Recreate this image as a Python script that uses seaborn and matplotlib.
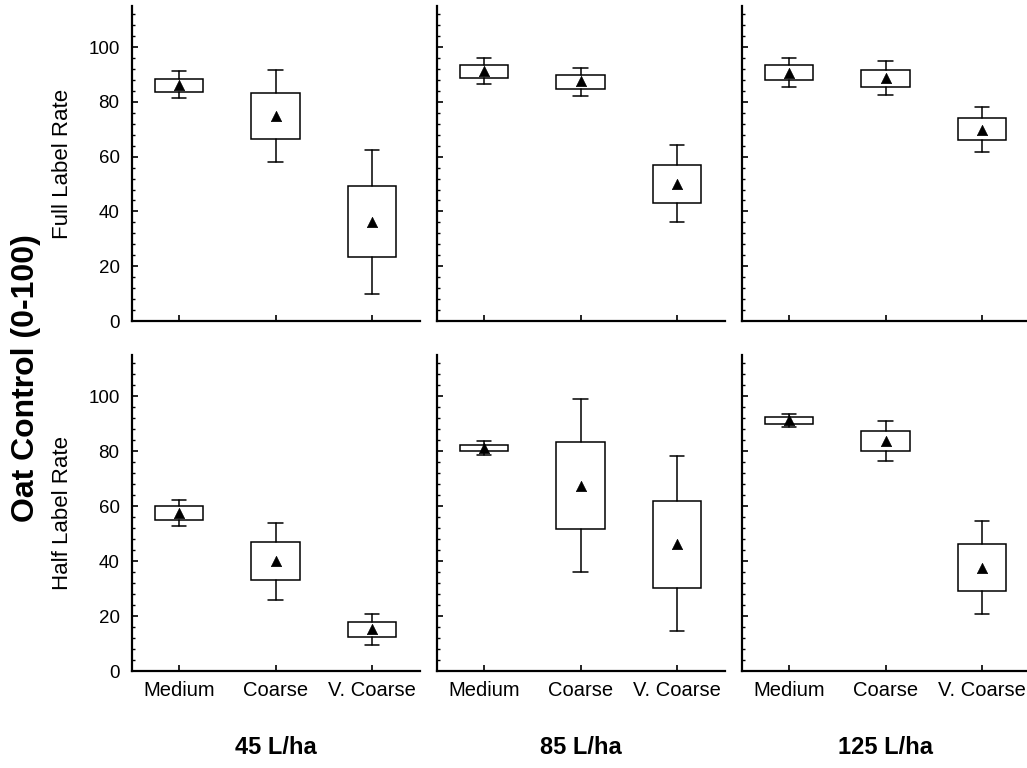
import matplotlib
matplotlib.use("Agg")
import matplotlib.pyplot as plt
from matplotlib.ticker import MultipleLocator
import seaborn as sns
import pandas as pd

# ---- data ----
categories = ["Medium", "Coarse", "V. Coarse"]
volumes = ["45 L/ha", "85 L/ha", "125 L/ha"]
rates = ["Full Label Rate", "Half Label Rate"]

# each inner list: Medium, Coarse, V. Coarse ; outer list: 45, 85, 125 L/ha
full_mean = [[86.0, 74.8, 36.0], [91.2, 87.6, 49.9], [90.6, 88.7, 69.9]]
full_box_lo = [[83.7, 66.5, 23.2], [88.7, 84.8, 42.9], [88.0, 85.5, 66.0]]
full_box_hi = [[88.5, 83.3, 49.2], [93.5, 89.9, 57.1], [93.4, 91.8, 74.0]]
full_whis_lo = [[81.3, 58.1, 9.9], [86.4, 82.3, 36.0], [85.4, 82.4, 61.8]]
full_whis_hi = [[91.1, 91.8, 62.3], [96.0, 92.4, 64.2], [96.1, 94.9, 78.0]]

half_mean = [[57.5, 39.9, 15.2], [81.1, 67.3, 46.1], [91.2, 83.6, 37.5]]
half_box_lo = [[55.0, 33.0, 12.3], [79.9, 51.6, 30.3], [89.8, 79.9, 29.1]]
half_box_hi = [[60.0, 47.0, 17.9], [82.4, 83.3, 62.0], [92.5, 87.5, 46.1]]
half_whis_lo = [[52.6, 25.9, 9.4], [78.7, 35.9, 14.4], [88.7, 76.3, 20.6]]
half_whis_hi = [[62.4, 54.0, 20.8], [83.8, 99.0, 78.1], [93.7, 91.1, 54.5]]

row_data = [
    (full_mean, full_box_lo, full_box_hi, full_whis_lo, full_whis_hi),
    (half_mean, half_box_lo, half_box_hi, half_whis_lo, half_whis_hi),
]

# ---- style ----
sns.set_style("ticks", {"axes.edgecolor": "black", "text.color": "black",
                        "xtick.color": "black", "ytick.color": "black"})
plt.rcParams["font.family"] = ["Liberation Sans", "DejaVu Sans"]

fig = plt.figure(figsize=(10.27, 7.68), dpi=100)
W, H = 1027, 768
col_x = [132, 437, 742]
ax_w = 288
row_y = [(6, 321), (355, 671)]

for r in range(2):
    means, blo, bhi, wlo, whi = row_data[r]
    top_px, bot_px = row_y[r]
    for c in range(3):
        ax = fig.add_axes([col_x[c] / W, 1 - bot_px / H, ax_w / W, (bot_px - top_px) / H])
        stats = []
        for k, cat in enumerate(categories):
            stats.append(dict(label=cat, med=means[c][k], q1=blo[c][k], q3=bhi[c][k],
                              whislo=wlo[c][k], whishi=whi[c][k], fliers=[]))
        pos = list(range(len(categories)))
        ax.bxp(stats, positions=pos, widths=0.5, capwidths=0.15, showfliers=False,
               patch_artist=True,
               boxprops=dict(facecolor="white", edgecolor="black", linewidth=1.1),
               whiskerprops=dict(color="black", linewidth=1.1),
               capprops=dict(color="black", linewidth=1.1),
               medianprops=dict(linewidth=0))
        df = pd.DataFrame({"pos": pos, "mean": means[c]})
        sns.scatterplot(data=df, x="pos", y="mean", marker="^", color="black",
                        s=55, edgecolor="black", linewidth=0.5, ax=ax, legend=False, zorder=5)
        ax.set_xlim(-0.49, 2.5)
        ax.set_ylim(0, 115)
        ax.set_xticks(pos)
        ax.yaxis.set_major_locator(MultipleLocator(20))
        ax.yaxis.set_minor_locator(MultipleLocator(4))
        ax.set_xlabel("")
        ax.set_ylabel("")
        for s in ["top", "right"]:
            ax.spines[s].set_visible(False)
        for s in ["left", "bottom"]:
            ax.spines[s].set_linewidth(1.6)
            ax.spines[s].set_color("black")
        ax.tick_params(axis="both", direction="in", length=4, width=1.2, labelsize=13.5,
                       colors="black")
        ax.tick_params(axis="y", pad=9)
        ax.tick_params(axis="y", which="minor", direction="in", length=2.5, width=1.0)
        ax.tick_params(axis="x", labelsize=14.5, pad=7)
        if r == 0:
            ax.set_xticklabels([])
        else:
            ax.set_xticklabels(categories)
        if c != 0:
            ax.set_yticklabels([])
        if r == 1:
            fig.text((col_x[c] + ax_w / 2) / W, 1 - 748 / H, volumes[c],
                     ha="center", va="center", fontsize=17, fontweight="bold")
    fig.text(62 / W, 1 - ((top_px + bot_px) / 2) / H, rates[r], rotation=90,
             ha="center", va="center", fontsize=16)

fig.text(26 / W, 1 - 378 / H, "Oat Control (0-100)", rotation=90, ha="center",
         va="center", fontsize=23, fontweight="bold")

fig.savefig("out.png", dpi=100)
